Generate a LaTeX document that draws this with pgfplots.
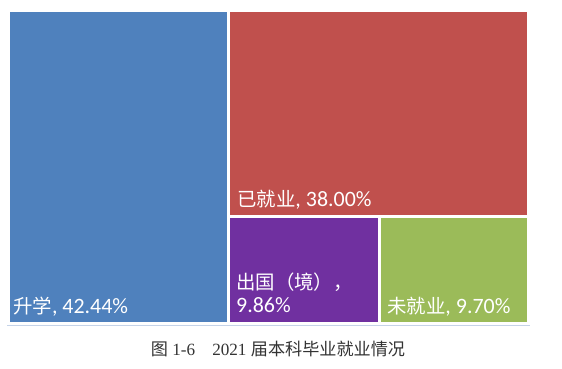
\documentclass[border=0pt]{standalone}
\usepackage{fontspec}
\usepackage{pgfplots}
\pgfplotsset{compat=1.18}
\setmainfont{Liberation Serif}
\newfontfamily\cjk{Noto Sans CJK SC}
\newfontfamily\lat{Carlito}
\newcommand\latn[1]{{\lat\fontsize{22}{24}\selectfont #1}}
\definecolor{tmblue}{HTML}{4F81BD}
\definecolor{tmred}{HTML}{C0504D}
\definecolor{tmpurple}{HTML}{7030A0}
\definecolor{tmgreen}{HTML}{9BBB59}
\definecolor{capgray}{HTML}{333333}
\definecolor{framecol}{HTML}{C5D3E8}
\tikzset{lbl/.style={font=\fontsize{19.5}{22}\selectfont, text=white, inner sep=0pt, anchor=base west}}
\begin{document}
\begin{tikzpicture}[x=1bp,y=1bp]
\path (0,0) rectangle (562,368);
\begin{axis}[at={(8bp,45bp)}, anchor=south west, scale only axis,
  width=520bp, height=312bp, xmin=0, xmax=100, ymin=0, ymax=100,
  hide axis, clip=false]
\addplot[fill=tmblue, draw=white, line width=3bp] coordinates {(0,0) (42.44,0) (42.44,100) (0,100)} -- cycle;
\addplot[fill=tmred, draw=white, line width=3bp] coordinates {(42.44,33.98) (100,33.98) (100,100) (42.44,100)} -- cycle;
\addplot[fill=tmpurple, draw=white, line width=3bp] coordinates {(42.44,0) (71.46,0) (71.46,33.98) (42.44,33.98)} -- cycle;
\addplot[fill=tmgreen, draw=white, line width=3bp] coordinates {(71.46,0) (100,0) (100,33.98) (71.46,33.98)} -- cycle;
\node[lbl] at (axis cs:0.96,3.2) {{\cjk 升学}\latn{, 42.44\%}};
\node[lbl] at (axis cs:44.04,37.2) {{\cjk 已就业}\latn{, 38.00\%}};
\node[lbl] at (axis cs:43.85,10.6) {{\cjk 出国（境），}};
\node[lbl] at (axis cs:43.85,3.5) {\latn{9.86\%}};
\node[lbl] at (axis cs:72.88,3.2) {{\cjk 未就业}\latn{, 9.70\%}};
\end{axis}
\draw[framecol, line width=1bp] (7,43) -- (530,43);
\node[font=\fontsize{17.2}{19}\selectfont, text=capgray] at (278,19) {{\cjk 图} 1-6\quad 2021 {\cjk 届本科毕业就业情况}};
\end{tikzpicture}
\end{document}
